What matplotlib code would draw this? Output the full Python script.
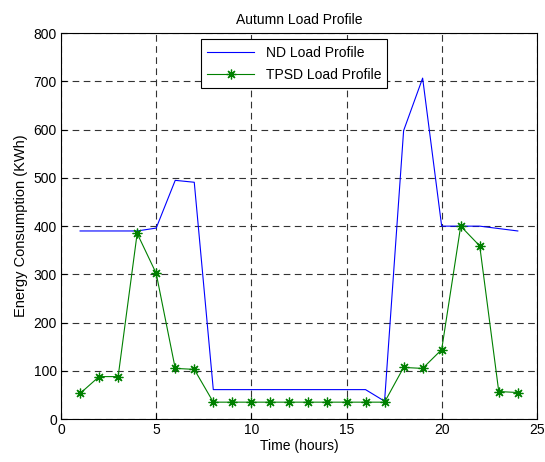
import numpy as np
import matplotlib.pyplot as plt

plt.rcParams['font.family'] = ['Liberation Sans', 'DejaVu Sans']
plt.rcParams['lines.scale_dashes'] = False

# Horas del día
horas = np.arange(1, 25)

# Perfil de carga sin gestión (ND)
nd_carga = [390, 390, 390, 390, 396, 495, 491, 61, 61, 61, 61, 61, 61, 61, 61, 61,
            37, 598, 707, 400, 400, 400, 395, 390]

# Perfil de carga con TPSD
tpsd_carga = [53, 88, 88, 385, 302, 105, 103, 35, 35, 35, 35, 35, 35, 35, 35, 35,
              35, 107, 105, 144, 400, 359, 57, 55]

fig = plt.figure(figsize=(5.45, 4.62), dpi=100)
ax = fig.add_axes([0.112, 0.093, 0.873, 0.835])

ax.plot(horas, nd_carga, color='b', linewidth=0.8, label='ND Load Profile')
ax.plot(horas, tpsd_carga, color=(0, 0.5, 0), linewidth=0.8, marker=(8, 2, 0),
        markersize=7, markeredgewidth=0.9, label='TPSD Load Profile')

ax.set_xlim(0, 25)
ax.set_ylim(0, 800)
ax.set_xticks(np.arange(0, 26, 5))
ax.set_yticks(np.arange(0, 801, 100))
ax.tick_params(direction='in', labelsize=10, length=4, pad=3)

ax.grid(True, color='0.2', linestyle=(0, (4.8, 3.2)), linewidth=0.8)

ax.set_title('Autumn Load Profile', fontsize=10, pad=7)
ax.set_xlabel('Time (hours)', fontsize=10, labelpad=1)
ax.set_ylabel('Energy Consumption (KWh)', fontsize=10.5, labelpad=4)

leg = ax.legend(loc='upper center', bbox_to_anchor=(0.49, 0.995), fontsize=10,
                fancybox=False, framealpha=1, edgecolor='k', borderaxespad=0.3,
                handlelength=3.4, labelspacing=0.6, borderpad=0.45)
leg.get_frame().set_linewidth(0.8)

fig.savefig('out.png', dpi=100)
